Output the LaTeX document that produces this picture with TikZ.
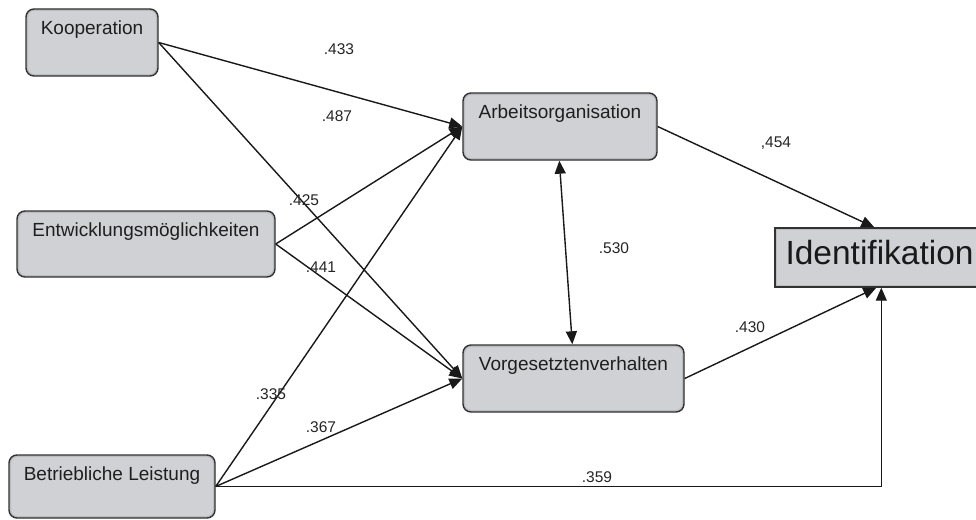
\documentclass[tikz,border=0pt]{standalone}
\usepackage{fontspec}
\setmainfont{Liberation Sans}
\usetikzlibrary{arrows.meta}
\definecolor{boxfill}{RGB}{207,209,212}
\definecolor{boxedge}{RGB}{186,188,191}
\definecolor{boxdraw}{RGB}{50,50,50}
\definecolor{linec}{RGB}{25,25,25}
\tikzset{
  varbox/.style={draw=boxdraw, line width=1.4pt, fill=boxfill, rounded corners=8pt, inner sep=0pt,
    path picture={\draw[boxedge, line width=4pt, rounded corners=8pt]
      (path picture bounding box.south west) rectangle (path picture bounding box.north east);}},
  idbox/.style={draw=boxdraw, line width=1.4pt, fill=boxfill, inner sep=0pt,
    path picture={\draw[boxedge, line width=4pt]
      (path picture bounding box.south west) rectangle (path picture bounding box.north east);}},
  boxtext/.style={font=\fontsize{19}{19}\selectfont, inner sep=0pt, anchor=base, text=black!88},
  coef/.style={font=\fontsize{15.5}{15.5}\selectfont, inner sep=0pt, text=black!85},
  conn/.style={draw=linec, line width=1.4pt, -{Triangle[length=13pt,width=11pt]}},
  biconn/.style={draw=linec, line width=1.4pt, {Triangle[length=13pt,width=11pt]}-{Triangle[length=13pt,width=11pt]}}
}
\begin{document}
\begin{tikzpicture}[x=1pt,y=-1pt]
\useasboundingbox (0,0) rectangle (976,519);
\clip (0,0) rectangle (976,519);
\fill[white] (0,0) rectangle (976,519);

% boxes
\node[varbox, minimum width=132pt, minimum height=67pt] (ko) at (92,42.5) {};
\node[varbox, minimum width=258pt, minimum height=66pt] (en) at (146,244) {};
\node[varbox, minimum width=206pt, minimum height=63pt] (bl) at (112,486.5) {};
\node[varbox, minimum width=194pt, minimum height=67pt] (ao) at (560,126.5) {};
\node[varbox, minimum width=221pt, minimum height=67pt] (vo) at (573.5,378.5) {};
\node[idbox, minimum width=240pt, minimum height=59pt] (id) at (895,257.5) {};

% box texts
\node[boxtext] (kot) at ([yshift=-26.5pt]ko.north) {Kooperation};
\node[boxtext] (ent) at ([yshift=-26.5pt]en.north) {Entwicklungsmöglichkeiten};
\node[boxtext] (blt) at ([yshift=-26.5pt]bl.north) {Betriebliche Leistung};
\node[boxtext] (aot) at ([yshift=-26.5pt]ao.north) {Arbeitsorganisation};
\node[boxtext] (vot) at ([yshift=-26.5pt]vo.north) {Vorgesetztenverhalten};
\node[font=\fontsize{33.5}{33.5}\selectfont, inner sep=0pt, anchor=base west, text=black!90] (idt)
  at ([xshift=11pt,yshift=-37pt]id.north west) {Identifikation};

% connectors
\draw[conn] (ko.east) -- (ao.west);
\draw[conn] (ko.east) -- (vo.west);
\draw[conn] (en.east) -- (ao.west);
\draw[conn] (en.east) -- (vo.west);
\draw[conn] (bl.east) -- (ao.west);
\draw[conn] (bl.east) -- (vo.west);
\draw[conn] (bl.east) -| ([xshift=107pt]id.south west);
\draw[conn] (ao.east) -- ([xshift=100pt]id.north west);
\draw[conn] (vo.east) -- ([xshift=102pt]id.south west);
\draw[biconn] ([xshift=97pt]ao.south west) -- ([xshift=110pt]vo.north west);

% coefficients
\node[coef] (c1) at (339,49) {.433};
\node[coef] (c2) at (337,116) {.487};
\node[coef] (c3) at (304,200) {.425};
\node[coef] (c4) at (321,267) {.441};
\node[coef] (c5) at (271,394) {.335};
\node[coef] (c6) at (321,427) {.367};
\node[coef] (c7) at (597,477) {.359};
\node[coef] (c8) at (750,327) {.430};
\node[coef] (c9) at (776,143) {,454};
\node[coef] (c10) at (614,248) {.530};
\end{tikzpicture}
\end{document}
